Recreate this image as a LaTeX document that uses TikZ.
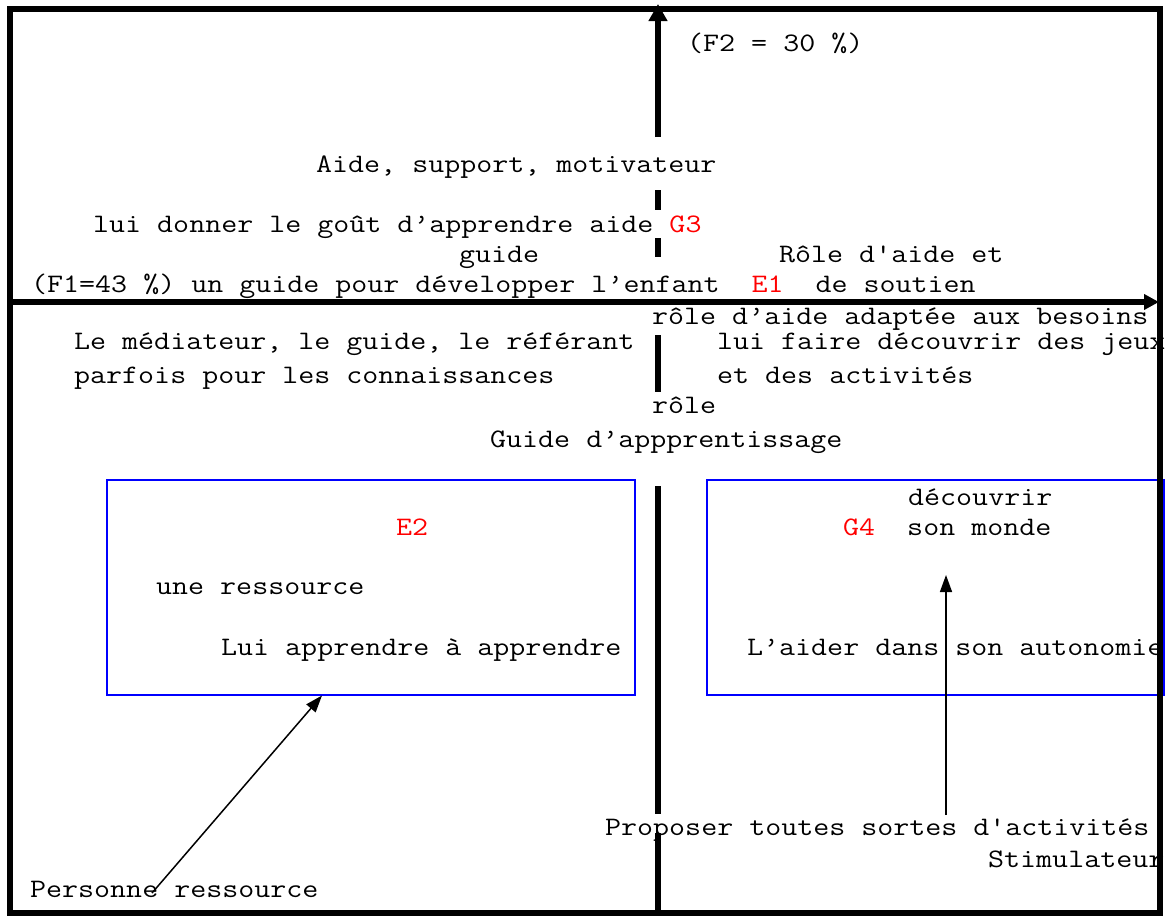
\documentclass[tikz,border=0pt]{standalone}
\usepackage{fontspec}
\newfontfamily\monof{Latin Modern Mono}[FakeStretch=1.1655]
\usetikzlibrary{arrows.meta,calc}
\definecolor{labred}{RGB}{255,0,0}
\definecolor{boxblue}{RGB}{0,0,255}
\begin{document}
\begin{tikzpicture}[x=1pt,y=-1pt,
  txt/.style={font=\monof\fontsize{26.67}{32}\selectfont, inner sep=0pt, anchor=base west},
  axisline/.style={line width=6pt, black},
  framebox/.style={line width=6pt, black},
  bluebox/.style={draw=boxblue, line width=1.5pt, inner sep=0pt, anchor=north west},
  thinarrow/.style={line width=1.5pt, -{Triangle[length=17pt,width=12pt]}},
  lab/.style={text=labred}]
\useasboundingbox (0,0) rectangle (1165,916);
\clip (0,0) rectangle (1165,916);
\fill[white] (0,0) rectangle (1165,916);

% vertical axis, interrupted where the labels sit
\coordinate (vtop) at (658,4);
\coordinate (va) at (658,137);
\coordinate (vb1) at (658,190); \coordinate (vb2) at (658,210);
\coordinate (vc1) at (658,238); \coordinate (vc2) at (658,257);
\coordinate (vd1) at (658,335); \coordinate (vd2) at (658,392);
\coordinate (ve1) at (658,486); \coordinate (ve2) at (658,814);
\coordinate (vf1) at (658,833); \coordinate (vf2) at (658,912);
\draw[axisline, -{Triangle[length=17pt,width=18pt]}] (va) -- (vtop);
\draw[axisline] (vb1) -- (vb2);
\draw[axisline] (vc1) -- (vc2);
\draw[axisline] (vd1) -- (vd2);
\draw[axisline] (ve1) -- (ve2);
\draw[axisline] (vf1) -- (vf2);

% horizontal axis
\coordinate (hl) at (10,302);
\coordinate (hr) at (1159,302);
\draw[axisline, -{Triangle[length=15pt,width=15pt]}] (hl) -- (hr);

% the two framed quadrant boxes
\node[bluebox, minimum width=528pt, minimum height=215pt] (boxL) at (106,479) {};
\node[bluebox, minimum width=457pt, minimum height=215pt] (boxR) at (706,479) {};

% upper half
\node[txt] (f2) at (687,51) {(F2 = 30 \%)};
\node[txt] (aide) at (316,172) {Aide, support, motivateur};
\node[txt] (gout) at (93,232) {lui donner le goût d’apprendre aide \textcolor{labred}{G3}};
\node[txt] (guide) at (459,262) {guide};
\node[txt] (roleaide) at (779,262) {Rôle d'aide et};
\node[txt] (f1) at (31,292) {(F1=43 \%) un guide pour développer l’enfant\ \ \textcolor{labred}{E1}\ \ de soutien};

% lower half, above the boxes
\node[txt] (adapt) at (652,324) {rôle d’aide adaptée aux besoins};
\node[txt] (med1) at (74,349) {Le médiateur, le guide, le référant};
\node[txt] (med2) at (74,383) {parfois pour les connaissances};
\node[txt] (jeux1) at (717,349) {lui faire découvrir des jeux};
\node[txt] (jeux2) at (717,383) {et des activités};
\node[txt] (role) at (652,413) {rôle};
\node[txt] (gapp) at (490,447) {Guide d’appprentissage};

% inside the boxes
\node[txt, lab] (e2) at (396,535) {E2};
\node[txt] (ress) at (156,594) {une ressource};
\node[txt] (appr) at (221,655) {Lui apprendre à apprendre};
\node[txt] (dec) at (908,505) {découvrir};
\node[txt] (monde) at (843,535) {\textcolor{labred}{G4}\ \ son monde};
\node[txt] (auto) at (747,655) {L’aider dans son autonomie};

% bottom labels
\node[txt] (prop) at (605,835) {Proposer toutes sortes d'activités};
\node[txt] (stim) at (988,867) {Stimulateur};
\node[txt] (pers) at (30,897) {Personne ressource};

% pointers into the boxes
\coordinate (persTail) at (152,893);
\draw[thinarrow] (persTail) -- ($(boxL.south west)+(216,0)$);
\coordinate (propTail) at (946,815);
\coordinate (propHead) at (946,575);
\draw[thinarrow] (propTail) -- (propHead);

% outer frame
\draw[framebox] (10,8.5) rectangle (1159.5,913);
\end{tikzpicture}
\end{document}
